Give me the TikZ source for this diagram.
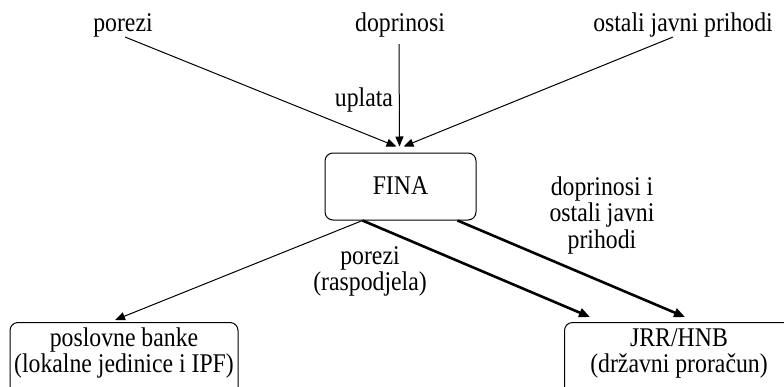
\documentclass[tikz,border=0pt]{standalone}
\usepackage{fontspec}
\setmainfont[FakeStretch=0.88]{Liberation Serif}
\usetikzlibrary{arrows.meta}
\begin{document}
\begin{tikzpicture}[x=1pt,y=-1pt,
  font=\fontsize{27}{24}\selectfont,
  lbl/.style={anchor=base, inner sep=0pt},
  mlbl/.style={anchor=base, inner sep=0pt, align=center},
  conn/.style={line width=1pt, -{Triangle[length=10pt,width=8pt]}},
  thickconn/.style={line width=2.6pt, -{Triangle[length=11pt,width=9pt]}},
  box/.style={draw, line width=1pt, rounded corners=8pt, inner sep=0pt}]
\useasboundingbox (0,0) rectangle (784,386);
\fill[white] (0,0) rectangle (784,386);

% top labels
\node[lbl] (pz) at (123,31) {porezi};
\node[lbl] (dp) at (400,31) {doprinosi};
\node[lbl] (oj) at (683,31) {ostali javni prihodi};
\node[lbl] (up) at (364,106) {uplata};

\coordinate (pzs) at (125,37);
\coordinate (dps) at (399,44);
\coordinate (ojs) at (673,37);

% FINA
\node[box, minimum width=151pt, minimum height=67pt] (fina) at (400.5,186.5) {};
\node[lbl] (finat) at (400.5,194) {FINA};

% bottom boxes
\node[box, minimum width=228pt, minimum height=80pt, anchor=north] (banke) at (124,322) {};
\node[mlbl] (banket) at (124,372) {poslovne banke\\(lokalne jedinice i IPF)};

\node[box, minimum width=240pt, minimum height=80pt, anchor=north west] (jrr) at (564,322) {};
\node[mlbl] (jrrt) at (679,372) {JRR/HNB\\[2pt](državni proračun)};

% edge labels
\node[mlbl] (rp) at (370,290) {porezi\\(raspodjela)};
\node[mlbl] (dj) at (602,248) {doprinosi i\\[1pt]ostali javni\\[1pt]prihodi};

% connectors
\draw[conn] (pzs) -- ([xshift=-4pt,yshift=6pt]fina.north);
\draw[conn] (dps) -- ([xshift=-1pt,yshift=6pt]fina.north);
\draw[conn] (ojs) -- ([xshift=3pt,yshift=6pt]fina.north);

\draw[conn] ([xshift=38pt]fina.south west) -- ([xshift=-9pt,yshift=2pt]banke.north);
\draw[thickconn] ([xshift=38pt]fina.south west) -- ([xshift=26pt,yshift=5pt]jrr.north west);
\draw[thickconn] ([xshift=-19pt]fina.south east) -- ([xshift=121pt,yshift=5pt]jrr.north west);
\end{tikzpicture}
\end{document}
